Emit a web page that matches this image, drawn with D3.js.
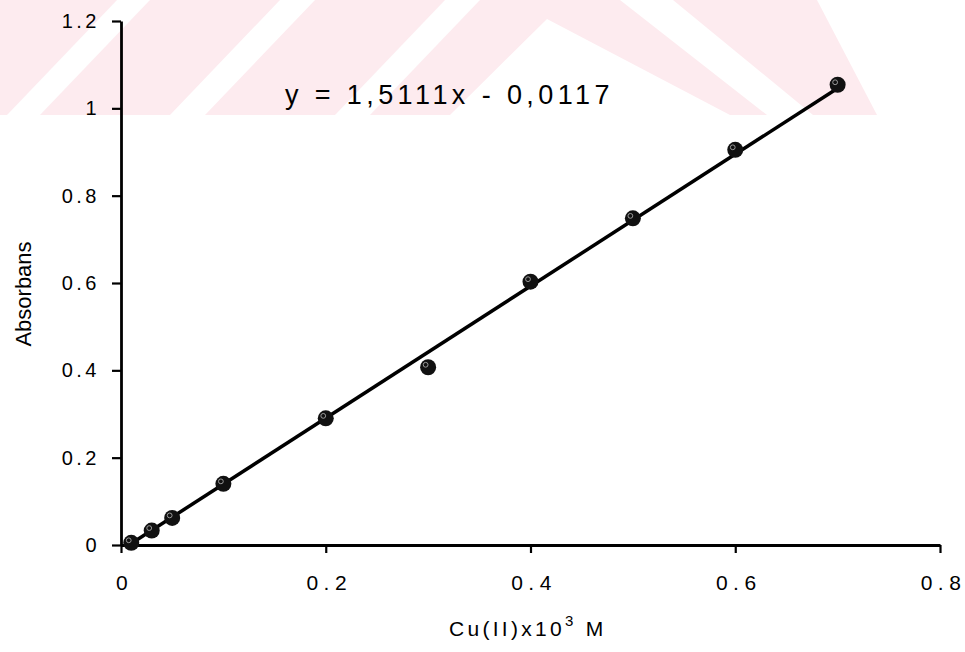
<!DOCTYPE html>
<html>
<head>
<meta charset="utf-8">
<script src="https://cdn.jsdelivr.net/npm/d3@7/dist/d3.min.js"></script>
<style>
  html, body { margin: 0; padding: 0; background: #fff; }
  svg { display: block; font-family: "Liberation Sans", Arial, sans-serif; }
</style>
</head>
<body>
<svg id="chart" width="965" height="652"></svg>
<script>
// Calibration data: Cu(II) concentration (x10^3 M) vs absorbance
const concentration = [0.01, 0.03, 0.05, 0.1, 0.2, 0.3, 0.4, 0.5, 0.6, 0.7];
const absorbance    = [0.005, 0.033, 0.062, 0.14, 0.29, 0.407, 0.603, 0.748, 0.905, 1.054];

// Linear fit shown on the chart
const slope = 1.5111;
const intercept = -0.0117;
const equationLabel = "y = 1,5111x - 0,0117";

const xTicks = [0, 0.2, 0.4, 0.6, 0.8];
const yTicks = [0, 0.2, 0.4, 0.6, 0.8, 1, 1.2];

const svg = d3.select("#chart");
const FONT = "Liberation Sans, Arial, sans-serif";

// Light decorative band across the top of the page
const band = svg.append("g");
const bandH = 115;
band.append("polygon").attr("fill", "#fdebef")
  .attr("points", `0,0 817,0 877,${bandH} 0,${bandH}`);
const gaps = [[7, 40], [170, 205], [335, 370]];
gaps.forEach(([a, b]) => {
  band.append("polygon").attr("fill", "#fff")
    .attr("points", `${a},${bandH} ${b},${bandH} ${b + 110},0 ${a + 110},0`);
});
band.append("polygon").attr("fill", "#fff")
  .attr("points", `547,19 730,${bandH} 450,${bandH}`);
band.append("polygon").attr("fill", "#fff")
  .attr("points", `620,0 673,0 813,${bandH} 767,${bandH}`);

const x = d3.scaleLinear().domain([0, 0.8]).range([121, 940]);
const y = d3.scaleLinear().domain([0, 1.2]).range([545, 21]);

const fmt = d => String(d);

// X axis
const xAxis = svg.append("g")
  .attr("transform", `translate(0,${y(0)})`)
  .call(d3.axisBottom(x).tickValues(xTicks).tickFormat(fmt).tickSize(8).tickSizeOuter(0));
xAxis.select(".domain").attr("stroke", "#000").attr("stroke-width", 2.8);
xAxis.selectAll(".tick line").attr("stroke", "#000").attr("stroke-width", 2.2);
xAxis.selectAll(".tick text")
  .attr("font-size", 21).attr("fill", "#000")
  .attr("y", 45).attr("dy", 0).attr("dx", 3)
  .attr("font-family", FONT)
  .style("letter-spacing", "5.5px");

// Y axis
const yAxis = svg.append("g")
  .attr("transform", `translate(${x(0)},0)`)
  .call(d3.axisLeft(y).tickValues(yTicks).tickFormat(fmt).tickSize(9).tickSizeOuter(0));
yAxis.select(".domain").attr("stroke", "#000").attr("stroke-width", 2.8);
yAxis.selectAll(".tick line").attr("stroke", "#000").attr("stroke-width", 2.2);
yAxis.selectAll(".tick text")
  .attr("font-size", 20).attr("fill", "#000").attr("x", -21)
  .attr("font-family", FONT)
  .style("letter-spacing", "3.5px");

// Fitted line across the data range
const xMin = d3.min(concentration), xMax = d3.max(concentration);
svg.append("line")
  .attr("x1", x(xMin)).attr("y1", y(slope * xMin + intercept))
  .attr("x2", x(xMax)).attr("y2", y(slope * xMax + intercept))
  .attr("stroke", "#000").attr("stroke-width", 3.5);

// Data markers
const pts = svg.append("g");
concentration.forEach((c, i) => {
  const cx = x(c), cy = y(absorbance[i]);
  pts.append("circle").attr("cx", cx).attr("cy", cy).attr("r", 8).attr("fill", "#111");
  pts.append("circle").attr("cx", cx - 2.5).attr("cy", cy - 2.5).attr("r", 2.4)
    .attr("fill", "none").attr("stroke", "#999").attr("stroke-width", 1);
});

// Regression equation
svg.append("text")
  .attr("x", 285).attr("y", 104)
  .attr("font-size", 27).attr("fill", "#000")
  .attr("font-family", FONT)
  .style("letter-spacing", "4.4px")
  .text(equationLabel);

// Axis titles
const xt = svg.append("text")
  .attr("x", 449).attr("y", 636)
  .attr("font-size", 21).attr("fill", "#000")
  .attr("font-family", FONT)
  .style("letter-spacing", "3.3px");
xt.append("tspan").text("Cu(II)x10");
xt.append("tspan").attr("dy", -10).attr("font-size", 15).text("3");
xt.append("tspan").attr("dy", 10).text(" M");

svg.append("text")
  .attr("transform", "translate(31,294) rotate(-90)")
  .attr("text-anchor", "middle")
  .attr("font-size", 22).attr("fill", "#000")
  .attr("font-family", FONT)
  .text("Absorbans");
</script>
</body>
</html>
